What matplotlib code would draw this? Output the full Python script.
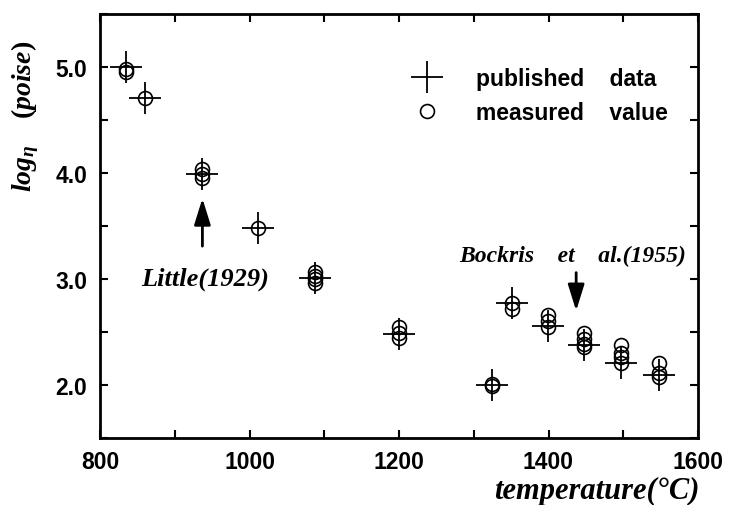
import matplotlib
matplotlib.use("Agg")
import matplotlib.pyplot as plt
from matplotlib.lines import Line2D
from matplotlib.ticker import MultipleLocator

# published data (crosses)
pub_T = [835, 860, 937, 1011, 1088, 1200, 1325, 1351, 1399, 1448, 1497, 1548]
pub_v = [5.00, 4.71, 3.99, 3.48, 3.01, 2.48, 2.00, 2.77, 2.56, 2.38, 2.21, 2.09]

# measured values (circles)
meas_T = [835, 835,
          860,
          937, 937, 937,
          1011,
          1088, 1088, 1088, 1088,
          1200, 1200, 1200,
          1325, 1325,
          1351, 1351,
          1399, 1399, 1399,
          1448, 1448, 1448, 1448,
          1497, 1497, 1497, 1497,
          1548, 1548, 1548]
meas_v = [4.98, 4.95,
          4.71,
          4.04, 3.99, 3.95,
          3.48,
          3.07, 3.03, 3.00, 2.96,
          2.55, 2.49, 2.44,
          2.01, 1.99,
          2.77, 2.72,
          2.66, 2.60, 2.55,
          2.49, 2.43, 2.39, 2.36,
          2.38, 2.30, 2.26, 2.21,
          2.21, 2.11, 2.08]

x_ticks = [800, 1000, 1200, 1400, 1600]
y_ticks = [2.0, 3.0, 4.0, 5.0]
y_ticklabels = ["2.0", "3.0", "4.0", "5.0"]

plt.rcParams['mathtext.fontset'] = 'custom'
plt.rcParams['mathtext.it'] = 'Liberation Serif:italic:bold'
plt.rcParams['mathtext.rm'] = 'Liberation Serif:bold'

fig = plt.figure(figsize=(7.33, 5.06), dpi=100)
ax = fig.add_axes([100/733, 1-439/506, 598/733, 424/506])

ax.plot(pub_T, pub_v, linestyle='none', marker='+', ms=23, mew=1.3, color='black')
ax.plot(meas_T, meas_v, linestyle='none', marker='o', ms=10, mew=1.2,
        mfc='none', mec='black')

ax.set_xlim(800, 1600)
ax.set_ylim(1.5, 5.5)
ax.set_xticks(x_ticks)
ax.set_yticks(y_ticks)
ax.set_yticklabels(y_ticklabels)
ax.xaxis.set_minor_locator(MultipleLocator(100))
ax.yaxis.set_minor_locator(MultipleLocator(0.5))
ax.tick_params(which='both', direction='in', top=True, right=True, length=6, width=1.5)
ax.tick_params(which='major', labelsize=16.5, pad=9)
for lab in ax.get_xticklabels() + ax.get_yticklabels():
    lab.set_fontweight('bold')
    lab.set_family('Liberation Sans')
for s in ax.spines.values():
    s.set_linewidth(2)

serif_bi = dict(family='Liberation Serif', style='italic', weight='bold')

ax.set_ylabel(r"$log_{\eta}$   $(poise)$", fontsize=20)
ax.yaxis.set_label_coords(-0.098, 0.76)
fig.text(597/733, 1-491/506, "temperature(°C)", ha='center', va='center',
         fontsize=22, **serif_bi)

astyle = '-|>,head_length=1.6,head_width=0.5'
ax.annotate("", xy=(937, 3.76), xytext=(937, 3.31),
            arrowprops=dict(arrowstyle=astyle, color='black', lw=2,
                            shrinkA=0, shrinkB=0))
ax.text(940, 3.01, "Little(1929)", ha='center', va='center', fontsize=19, **serif_bi)

ax.annotate("", xy=(1437, 2.70), xytext=(1437, 3.06),
            arrowprops=dict(arrowstyle=astyle, color='black', lw=2,
                            shrinkA=0, shrinkB=0))
ax.text(1432, 3.22, "Bockris    et    al.(1955)", ha='center', va='center',
        fontsize=17, **serif_bi)

handles = [Line2D([], [], linestyle='none', marker='+', ms=23, mew=1.3, color='black'),
           Line2D([], [], linestyle='none', marker='o', ms=10, mew=1.2, mfc='none', mec='black')]
leg = ax.legend(handles, ["published    data", "measured    value"],
                loc='upper left', bbox_to_anchor=(0.490, 0.901), frameon=False,
                handlelength=2.0, handletextpad=1.1, labelspacing=0.45, borderpad=0,
                prop=dict(family='Liberation Sans', weight='bold', size=16.5))

fig.savefig("out.png", dpi=100)
